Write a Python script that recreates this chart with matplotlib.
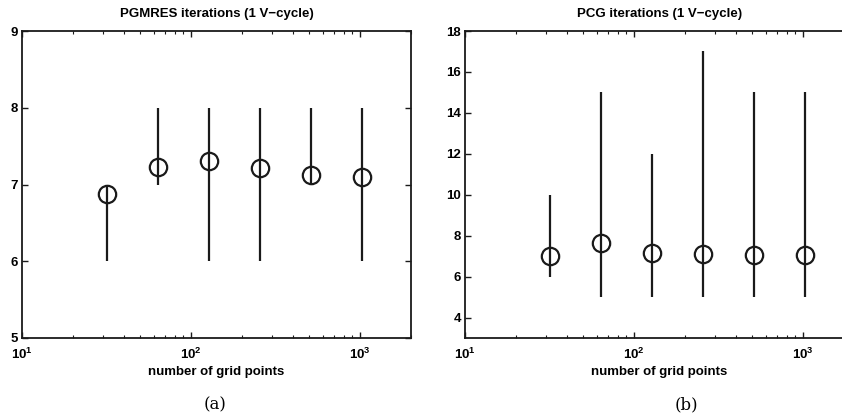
import matplotlib
matplotlib.use('Agg')
import matplotlib.pyplot as plt
from matplotlib.ticker import LogLocator, FixedLocator, NullFormatter

# ----------- DATA ------------
grid_points = [32, 64, 128, 256, 512, 1024]

gmres_mean = [6.88, 7.23, 7.30, 7.21, 7.12, 7.10]
gmres_min = [6, 7, 6, 6, 7, 6]
gmres_max = [7, 8, 8, 8, 8, 8]

pcg_mean = [7.0, 7.65, 7.15, 7.08, 7.05, 7.05]
pcg_min = [6, 5, 5, 5, 5, 5]
pcg_max = [10, 15, 12, 17, 15, 15]

plt.rcParams['font.family'] = 'Liberation Sans'
plt.rcParams['font.weight'] = 'bold'
plt.rcParams['mathtext.fontset'] = 'custom'
plt.rcParams['mathtext.rm'] = 'Liberation Sans:bold'
plt.rcParams['mathtext.it'] = 'Liberation Sans:bold'
plt.rcParams['mathtext.bf'] = 'Liberation Sans:bold'


def iteration_panel(ax, means, mins, maxs, title, ylim, yticks):
    ax.vlines(grid_points, mins, maxs, color='#1a1a1a', linewidth=1.6)
    ax.plot(grid_points, means, 'o', markersize=12.5, markerfacecolor='none',
            markeredgecolor='#1a1a1a', markeredgewidth=1.6)
    ax.set_xscale('log')
    ax.set_xlim(10, 2000)
    ax.set_ylim(*ylim)
    ax.set_yticks(yticks)
    ax.xaxis.set_major_locator(FixedLocator([10, 100, 1000]))
    ax.set_xticklabels([r'$10^{1}$', r'$10^{2}$', r'$10^{3}$'])
    ax.xaxis.set_minor_locator(LogLocator(base=10, subs=range(2, 10)))
    ax.xaxis.set_minor_formatter(NullFormatter())
    ax.tick_params(which='both', direction='in', top=True, right=True,
                   labelsize=9.5, color='#1a1a1a')
    ax.tick_params(which='major', length=4, width=1)
    ax.tick_params(which='minor', length=2.5, width=0.8)
    ax.tick_params(axis='x', which='major', pad=6)
    ax.tick_params(axis='y', pad=3)
    for s in ax.spines.values():
        s.set_linewidth(1.3)
        s.set_color('#1a1a1a')
    ax.set_title(title, fontsize=9.5, fontweight='bold', pad=10)
    ax.set_xlabel('number of grid points', fontsize=9.5, fontweight='bold', labelpad=3)


fig = plt.figure(figsize=(8.42, 4.17), dpi=100)
ax1 = fig.add_axes([22 / 842, 1 - 338 / 417, (411 - 22) / 842, (338 - 31) / 417])
ax2 = fig.add_axes([465 / 842, 1 - 338 / 417, (411 - 22) / 842, (338 - 31) / 417])

iteration_panel(ax1, gmres_mean, gmres_min, gmres_max,
                'PGMRES iterations (1 V\u2212cycle)', (5, 9), [5, 6, 7, 8, 9])
iteration_panel(ax2, pcg_mean, pcg_min, pcg_max,
                'PCG iterations (1 V\u2212cycle)', (3, 18), [4, 6, 8, 10, 12, 14, 16, 18])

for cap, xc in [('(a)', 215 / 842), ('(b)', 686 / 842)]:
    fig.text(xc, 1 - 405 / 417, cap, ha='center', va='center',
             fontsize=12, family='DejaVu Serif', fontweight='normal')

fig.savefig('out.png', dpi=100)
